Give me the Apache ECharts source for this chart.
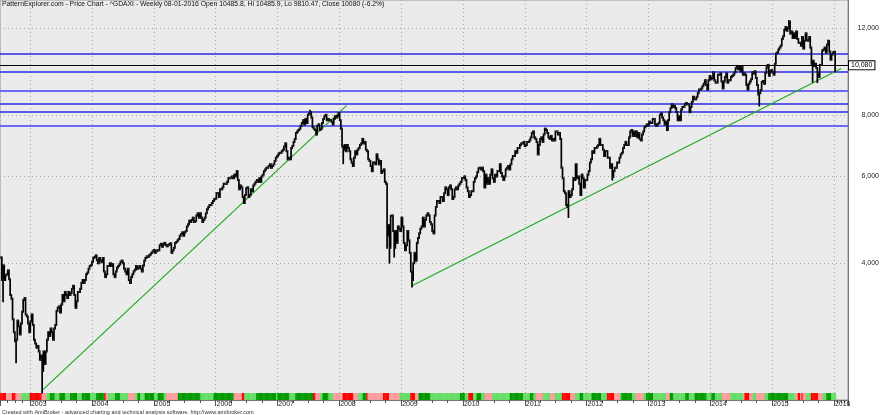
<!DOCTYPE html>
<html><head><meta charset="utf-8">
<script src="https://cdn.jsdelivr.net/npm/echarts@6/dist/echarts.min.js"></script>
<style>html,body{margin:0;padding:0;background:#fff}#c{width:880px;height:415px}</style>
</head><body><div id="c"></div>
<script>
// ---------- DATA ----------
const titleText = 'PatternExplorer.com - Price Chart - ^GDAXI - Weekly 08-01-2016 Open 10485.8, Hi 10485.9, Lo 9810.47, Close 10080 (-6.2%)';
const footerText = 'Created with AmiBroker - advanced charting and technical analysis software. http://www.amibroker.com';
// first weekly bar (Friday) of each year block
const yearStarts = ['2002-07-12','2003-01-03','2004-01-02','2005-01-07','2006-01-06','2007-01-05','2008-01-04','2009-01-02','2010-01-01','2011-01-07','2012-01-06','2013-01-04','2014-01-03','2015-01-02','2016-01-01'];
const close2002 = [4110,3700,3960,3700,3780,3800,3870,3712,3450,3390,3080,2900,2780,2800,3060,2980,2870,3020,3190,3370,3400,3150,3120,3020,2900];
const close2003 = [3050,3150,3000,2800,2750, 2700,2720,2650,2550, 2600,2420,2650,2500, 2650,2800,2900,2850, 2950,2900,2800,2950,3000, 3200,3250,3270,3180, 3300,3450,3350,3500, 3450,3400,3500,3450,3480, 3550,3600,3450,3250, 3350,3500,3500,3550,3650, 3700,3650,3700,3800, 3830,3900,3950,3965];
const close2004 = [4030,4100,4120,4150,4060, 4000,4100,4050,4020, 4100,3850,3750,3800, 3950,3950,4000,3950,3985, 3800,3750,3850,3920, 3950,3980,4030,4050, 4000,3900,3850,3800,3900, 3700,3650,3750,3800, 3850,3880,3950,3900, 3920,3950,3900,3850,3960, 4050,4100,4130,4120, 4150,4170,4200,4230,4256];
const close2005 = [4200,4230,4250,4250, 4350,4380,4320,4370, 4400,4360,4330,4350, 4370,4390,4200,4250,4300, 4400,4420,4450,4480, 4550,4580,4620,4550, 4620,4650,4750,4800,4880, 4850,4900,4950,4850, 4870,5000,5050,4950,5050, 4950,4850,4900,4950, 5050,5150,5200,5250, 5250,5300,5350,5400,5408];
const close2006 = [5550,5550,5450,5650, 5650,5700,5800,5800, 5800,5850,5950,5950,5970, 6000,5950,6050,6000, 6150,5900,5650,5750, 5700,5450,5300,5500,5680, 5700,5450,5500,5650, 5600,5750,5800,5850, 5900,5850,5950,5850,6000, 6050,6150,6200,6250, 6250,6300,6350,6250, 6300,6350,6450,6550,6597];
const close2007 = [6650,6700,6700,6750, 6800,6900,7000,6750, 6500,6550,6500,6850,6920, 7050,7150,7350,7400, 7450,7500,7600,7700, 7800,7650,7850,7700,8000, 8050,8100,7900,7550, 7500,7450,7300,7600,7650, 7450,7500,7700,7850, 7950,8000,7800,7850, 7800,7800,7750,7650,7850, 7950,7900,7950,8067];
const close2008 = [7800,7500,6900,6800, 6950,6750,6950,6850,6750, 6500,6400,6300,6550, 6750,6650,6800,6850, 6950,7000,7150,7000,7050, 6800,6750,6500,6450, 6300,6150,6400,6400, 6350,6650,6500,6350,6450, 6100,6150,6200,5850, 5800,4550,4780,4300,4990, 5000,4650,4300,4650, 4400,4750,4700,4650];
const close2009 = [4950,4750,4400,4250,4350, 4650,4450,4200,3850, 3700,4000,4200,4050, 4400,4500,4600,4700, 4750,4950,4750,4900,5000, 5050,5000,4850,4800, 4650,4600,5000,5200,5350, 5350,5300,5450,5450, 5350,5550,5700,5650, 5500,5700,5750,5650,5400, 5450,5650,5700,5650, 5750,5800,5850,5950];
const close2010 = [5957,6000,5900,5700,5600, 5450,5500,5600,5600, 5850,5950,6000,6120, 6230,6250,6200,6250,6150, 5700,6050,5800,5950, 5800,6050,6200,5950, 5850,6050,6000,6150,6150, 6350,6100,6000,5900, 6000,6200,6250,6300, 6200,6350,6500,6600,6600, 6750,6700,6850,6850, 6950,7000,7000,7050,6914];
const close2011 = [6950,7050,7050,7100, 7200,7350,7400,7200, 7150,7050,6650,6950, 7150,7200,7050,7300,7500, 7450,7350,7200,7150, 7250,7100,7150,7100, 7400,7400,7300,7350,7150, 6250,5950,5600,5550, 5250,5200,5600,5450,5500, 5650,5950,5900,6350, 5950,6000,5800,5500, 6050,5950,5700,5900,5898];
const close2012 = [6050,6150,6400,6500, 6750,6700,6850,6850, 6900,6950,7150,6950,6950, 6800,6600,6750,6750, 6550,6550,6250,6350, 5980,6150,6250,6250,6400, 6400,6550,6650,6700, 6850,6950,7050,6950,6950, 7200,7400,7450,7250, 7400,7250,7400,7200, 7350,7150,7100,7300,7400, 7550,7600,7650,7612];
const close2013 = [7750,7700,7700,7850, 7850,7650,7600,7650, 7700,8000,8050,7900,7800, 7650,7750,7450,7800, 8100,8250,8400,8300,8350, 8250,8100,7800,7950, 7800,8200,8300,8300, 8400,8450,8400,8400,8100, 8300,8500,8700,8600, 8600,8700,8850,9000, 9000,9050,9150,9250,9400, 9200,9000,9400,9590];
const close2014 = [9450,9500,9750,9400,9300, 9300,9650,9650,9700, 9350,9050,9350,9550, 9700,9300,9400,9400, 9550,9600,9650,9750,9950, 10000,9900,10000,9800, 10000,9650,9700,9650, 9200,9000,9250,9350,9450, 9750,9700,9800,9500, 9200,8800,8850,8980,9330, 9370,9250,9730,9980, 10100,9600,9800,9850];
const close2015 = [9750,9650,10150,10650,10700, 10850,10950,11050,11400, 11550,11900,12050,11850, 12000,12370,11700,11800, 11450,11700,11450,11800,11400, 11200,11200,11050,11500, 10900,11300,11700,11350,11300, 11500,10950,10150,10300, 10050,10150,9950,9700, 9550,10100,10100,10800,10850, 10950,10700,11100,11300, 10750,10350,10600,10700];
const close2016 = [10743,10080];
// intra-week extremes
const weekLows = [['2002-07-26',3350],['2002-10-11',2519],['2003-03-14',2189],['2008-01-25',6384],['2008-10-10',4300],['2008-10-24',4014],['2008-11-21',4127],['2009-03-06',3588],['2011-09-16',4966],['2012-06-01',5914],['2014-10-17',8355],['2015-08-28',9338],['2015-09-25',9325],['2016-01-08',9810]];
const weekHighs = [['2007-07-13',8151],['2015-04-10',12390],['2016-01-08',10486]];
// y-axis tick labels (log scale)
const priceTicks = [4000, 6000, 8000, 12000];
// horizontal support/resistance lines
const levelLines = [10660, 9802, 8940, 8427, 8131, 7593];
const lastClose = 10080;
// trendlines [date, price] -> [date, price]
const trendLines = [[['2003-03-11',2205],['2008-02-13',8350]], [['2009-03-03',3598],['2016-02-13',9930]]];
// colour ribbon at the bottom: run starts (R red, P light red, L light green, G green)
const stripRuns = [
['2002-07-01','R'],['2002-08-15','P'],['2002-09-15','R'],['2002-10-08','P'],['2002-11-12','L'],
['2003-01-01','R'],['2003-03-10','P'],['2003-04-09','L'],['2003-04-28','G'],['2003-05-28','L'],['2003-06-22','G'],['2003-07-26','L'],['2003-08-24','G'],['2003-10-06','L'],['2003-11-07','G'],['2003-12-24','L'],
['2004-01-29','G'],['2004-03-14','R'],['2004-03-24','P'],['2004-04-07','L'],['2004-05-16','G'],['2004-06-15','L'],['2004-08-03','P'],['2004-09-12','L'],['2004-09-26','G'],['2004-10-11','L'],['2004-11-10','G'],
['2005-01-02','L'],['2005-01-27','G'],['2005-02-26','L'],['2005-03-17','P'],['2005-05-25','G'],['2005-10-01','L'],['2005-12-18','G'],
['2006-04-15','P'],['2006-06-04','R'],['2006-06-17','L'],['2006-08-31','G'],['2006-12-27','L'],
['2007-01-05','G'],['2007-03-15','L'],['2007-04-14','G'],['2007-07-31','R'],['2007-08-15','P'],['2007-09-08','L'],['2007-09-28','G'],['2007-10-27','L'],['2007-11-26','P'],
['2008-01-20','R'],['2008-03-23','P'],['2008-04-22','L'],['2008-05-21','G'],['2008-06-11','R'],['2008-06-20','P'],['2008-09-17','R'],['2008-10-21','P'],['2008-12-24','L'],
['2009-02-22','R'],['2009-03-24','P'],['2009-04-12','G'],['2009-06-20','L'],['2009-12-13','G'],
['2010-01-11','L'],['2010-01-31','R'],['2010-03-01','L'],['2010-03-21','G'],['2010-04-20','L'],['2010-05-10','P'],['2010-06-24','L'],['2010-10-04','G'],['2010-12-22','L'],
['2011-01-31','G'],['2011-02-19','L'],['2011-03-11','P'],['2011-04-19','L'],['2011-05-28','P'],['2011-06-27','L'],['2011-08-06','R'],['2011-09-24','P'],['2011-10-24','L'],['2011-11-22','G'],['2011-12-16','L'],
['2012-01-31','G'],['2012-03-30','L'],['2012-04-28','R'],['2012-06-10','P'],['2012-07-16','L'],['2012-07-26','G'],['2012-09-23','L'],['2012-10-13','P'],['2012-12-01','L'],['2012-12-21','G'],
['2013-01-30','L'],['2013-04-18','P'],['2013-05-08','G'],['2013-05-28','L'],['2013-08-05','G'],['2013-08-24','L'],['2013-10-03','G'],['2013-12-10','L'],
['2014-01-08','G'],['2014-01-28','L'],['2014-03-08','P'],['2014-04-26','L'],['2014-07-13','P'],['2014-07-23','R'],['2014-08-22','P'],['2014-09-10','L'],['2014-09-30','P'],['2014-11-18','L'],['2014-12-08','G'],
['2015-04-04','L'],['2015-05-16','P'],['2015-06-03','R'],['2015-06-14','P'],['2015-06-23','R'],['2015-07-03','P'],['2015-07-23','L'],['2015-08-20','R'],['2015-09-28','P'],['2015-10-28','L'],['2015-11-17','G'],['2015-12-16','L']
];
const axisMin = '2002-07-08', axisMax = '2016-03-24';
const priceMin = 2113, priceMax = 13674;

// ---------- STYLES ----------
const stripColors = {R:'#ff0000', P:'#ff9c9c', L:'#66dd66', G:'#009a00'};
const levelColors = ['#2a2ae6','#2a2ae6','#6a6af2','#2a2ae6','#2a2ae6','#6a6af2'];
const levelWidths = [1.5,1.5,2,1.5,1.5,2];

// ---------- BUILD ----------
const DAY = 86400000;
const T = s => Date.parse(s + 'T00:00:00Z');
const closeYears = [close2002,close2003,close2004,close2005,close2006,close2007,close2008,close2009,close2010,close2011,close2012,close2013,close2014,close2015,close2016];
const weeks = [];
yearStarts.forEach((s,k) => { const t0 = T(s); closeYears[k].forEach((c,j) => weeks.push([t0 + j*7*DAY, c])); });
function nearestWeek(t){ let bi=0, bd=Infinity; weeks.forEach((w,i)=>{const d=Math.abs(w[0]-t); if(d<bd){bd=d;bi=i;}}); return bi; }
const loX = {}, hiX = {};
weekLows.forEach(([d,v]) => loX[nearestWeek(T(d))] = v);
weekHighs.forEach(([d,v]) => hiX[nearestWeek(T(d))] = v);
const ohlc = weeks.map((w,i) => {
  const c = w[1], o = i ? weeks[i-1][1] : c;
  const h = Math.max(o, c, hiX[i] || 0), l = Math.min(o, c, loX[i] || Infinity);
  return [w[0], o, h, l, c];
});
const runT = stripRuns.map(r => [T(r[0]), r[1]]);
const strip = weeks.map(w => { let code = runT[0][1]; for (const r of runT) { if (r[0] <= w[0]) code = r[1]; else break; } return [w[0], code]; });
const fmt = v => v.toLocaleString('en-US');
const FONT = 'Liberation Sans';

const chart = echarts.init(document.getElementById('c'), null, {renderer:'canvas'});
chart.setOption({
  animation: false,
  backgroundColor: '#ffffff',
  title: { text: titleText, left: 2, top: 1, padding: 0,
    textStyle: { fontSize: 6.8, fontWeight: 'normal', color: '#111', fontFamily: FONT } },
  graphic: [{ type: 'text', left: 2, bottom: 0, style: { text: footerText, fontSize: 5.5, fill: '#333', fontFamily: FONT } }],
  grid: [
    { left: 0, right: 32, top: 0, bottom: 15, show: true, backgroundColor: '#ebebeb', borderColor: '#9a9a9a', borderWidth: 1 },
    { left: 0, right: 32, top: 393, height: 7 }
  ],
  xAxis: [
    { type: 'time', gridIndex: 0, min: T(axisMin), max: T(axisMax),
      minInterval: 365*DAY, maxInterval: 366*DAY,
      axisLine: { show: true, lineStyle: { color: '#777' } },
      axisTick: { show: true, length: 6, lineStyle: { color: '#555' } },
      minorTick: { show: true, splitNumber: 4, length: 3, lineStyle: { color: '#555' } },
      axisLabel: { show: true, formatter: v => String(new Date(v).getUTCFullYear()), align: 'left', margin: 1, padding: [0,0,0,1],
        color: '#222', fontSize: 7, fontFamily: FONT, showMinLabel: false, showMaxLabel: false },
      splitLine: { show: true, lineStyle: { color: '#a8a8a8', type: [1,3] } } },
    { type: 'time', gridIndex: 1, min: T(axisMin), max: T(axisMax), show: false }
  ],
  yAxis: [
    { type: 'log', gridIndex: 0, position: 'right', min: priceMin, max: priceMax, logBase: 10,
      axisLine: { show: true, lineStyle: { color: '#777' } }, axisTick: { show: false },
      axisLabel: { show: false }, splitLine: { show: false } },
    { type: 'value', gridIndex: 1, min: 0, max: 1, show: false }
  ],
  series: [
    { type: 'line', name: 'grid', data: [], xAxisIndex: 0, yAxisIndex: 0, silent: true, z: 1,
      markLine: { silent: true, symbol: 'none', animation: false,
        lineStyle: { color: '#a8a8a8', type: [1,3], width: 1 },
        label: { show: true, position: 'end', distance: 9, formatter: p => '{a|' + fmt(p.value) + '}',
          rich: { a: { width: 22, align: 'right', color: '#222', fontSize: 7, fontFamily: FONT } } },
        data: priceTicks.map(v => ({ yAxis: v })) } },
    { type: 'line', name: 'levels', data: [], xAxisIndex: 0, yAxisIndex: 0, silent: true, z: 2,
      markLine: { silent: true, symbol: 'none', animation: false, label: { show: false },
        data: levelLines.map((v,i) => ({ yAxis: v, lineStyle: { color: levelColors[i], width: levelWidths[i], type: 'solid' } })) } },
    { type: 'line', name: 'close', data: [], xAxisIndex: 0, yAxisIndex: 0, silent: true, z: 3,
      markLine: { silent: true, symbol: 'none', animation: false,
        data: [{ yAxis: lastClose, lineStyle: { color: '#000', width: 1, type: 'solid' },
          label: { show: true, position: 'end', formatter: p => fmt(p.value), color: '#000', fontSize: 7, fontFamily: FONT,
            backgroundColor: '#fff', borderColor: '#000', borderWidth: 1, padding: [1,2,0,2], distance: 1 } }] } },
    { type: 'line', name: 'trend', data: [], xAxisIndex: 0, yAxisIndex: 0, silent: true, z: 4,
      markLine: { silent: true, symbol: 'none', animation: false, label: { show: false },
        lineStyle: { color: '#1faa1f', width: 1.2, type: 'solid' },
        data: trendLines.map(([a,b]) => [{ coord: [T(a[0]), a[1]] }, { coord: [T(b[0]), b[1]] }]) } },
    { type: 'custom', name: 'DAX', xAxisIndex: 0, yAxisIndex: 0, data: ohlc, z: 5, silent: true,
      encode: { x: 0, y: [1,2,3,4] },
      renderItem: (p, api) => {
        const t = api.value(0), o = api.value(1), h = api.value(2), l = api.value(3), c = api.value(4);
        const ph = api.coord([t,h]), pl = api.coord([t,l]), po = api.coord([t,o]), pc = api.coord([t,c]);
        const w = api.coord([t + 3.5*DAY, c])[0] - pc[0];
        return { type: 'group', children: [
          { type: 'line', shape: { x1: ph[0], y1: ph[1] - 1, x2: pl[0], y2: pl[1] + 1 }, style: { stroke: '#000', lineWidth: 1.7 } },
          { type: 'line', shape: { x1: po[0] - w, y1: po[1], x2: po[0], y2: po[1] }, style: { stroke: '#444', lineWidth: 1.2 } },
          { type: 'line', shape: { x1: pc[0], y1: pc[1], x2: pc[0] + w, y2: pc[1] }, style: { stroke: '#444', lineWidth: 1.2 } }
        ] };
      } },
    { type: 'custom', name: 'ribbon', xAxisIndex: 1, yAxisIndex: 1, silent: true,
      data: strip.map(s => [s[0], s[1]]),
      dimensions: ['t', { name: 'code', type: 'ordinal' }],
      encode: { x: 0 },
      renderItem: (p, api) => {
        const t = api.value(0); const code = strip[p.dataIndex][1];
        const a = api.coord([t - 3.5*DAY, 1]), b = api.coord([t + 3.5*DAY, 0]);
        return { type: 'rect', shape: { x: a[0], y: a[1], width: b[0] - a[0] + 0.4, height: b[1] - a[1] }, style: { fill: stripColors[code] } };
      } }
  ]
});
</script></body></html>
